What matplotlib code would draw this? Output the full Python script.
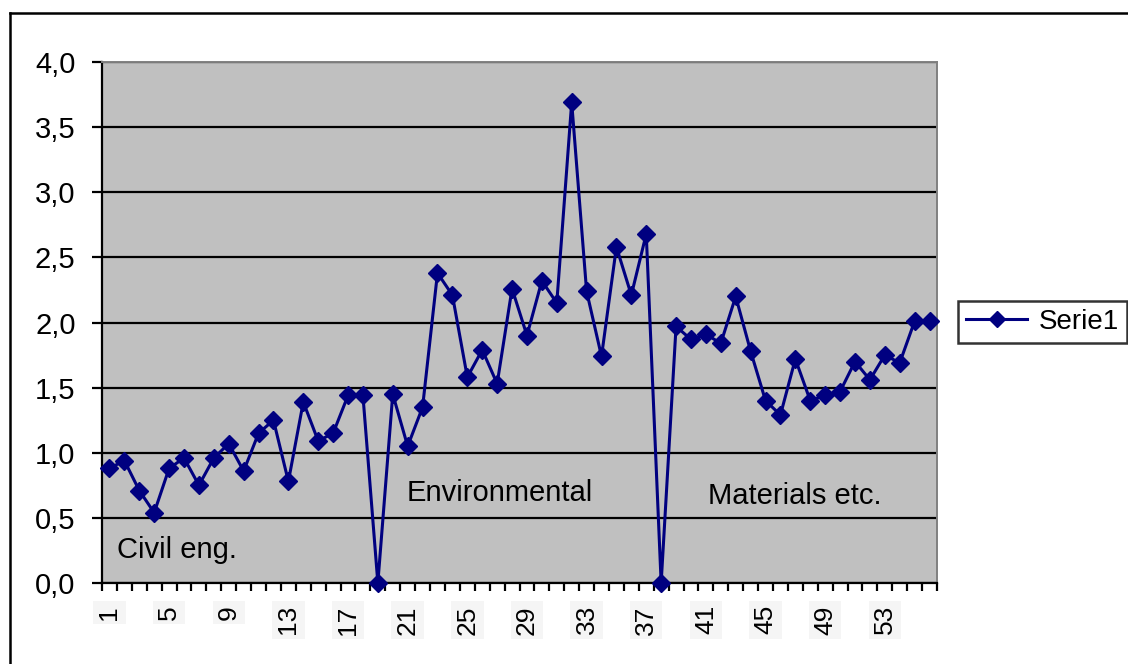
import matplotlib
matplotlib.use("Agg")
import matplotlib.pyplot as plt
from matplotlib.lines import Line2D
from matplotlib.ticker import FixedLocator, FuncFormatter

plt.rcParams['font.family'] = ['Liberation Sans', 'DejaVu Sans']

categories = list(range(1, 57))
serie1 = [0.88, 0.94, 0.71, 0.54, 0.88, 0.96, 0.75, 0.96, 1.07, 0.86,
          1.15, 1.25, 0.78, 1.39, 1.09, 1.15, 1.44, 1.44, 0.0, 1.45,
          1.05, 1.35, 2.38, 2.21, 1.58, 1.79, 1.53, 2.26, 1.90, 2.32,
          2.15, 3.69, 2.24, 1.74, 2.58, 2.21, 2.68, 0.0, 1.97, 1.87,
          1.91, 1.84, 2.20, 1.78, 1.40, 1.29, 1.72, 1.40, 1.44, 1.47,
          1.70, 1.56, 1.75, 1.69, 2.01, 2.01]
tick_labels = [str(c) for c in categories[::4]]
yticks = [0.0, 0.5, 1.0, 1.5, 2.0, 2.5, 3.0, 3.5, 4.0]
groups = ["Civil eng.", "Environmental", "Materials etc."]
group_pos = [(1.5, 0.25), (20.95, 0.69), (41.15, 0.67)]

W, H = 1128, 664
fig = plt.figure(figsize=(W / 100, H / 100), dpi=100)
fig.patch.set_facecolor('white')

# outer chart border (extends beyond right/bottom edges)
fig.add_artist(Line2D([10 / W, 10 / W], [1 - 13 / H, -0.1], transform=fig.transFigure,
                      color='black', lw=1.8))
fig.add_artist(Line2D([10 / W, 1.1], [1 - 13 / H, 1 - 13 / H], transform=fig.transFigure,
                      color='black', lw=1.8))

left, right, top, bottom = 102, 937, 62, 583
ax = fig.add_axes([left / W, 1 - bottom / H, (right - left) / W, (bottom - top) / H])
ax.set_facecolor('#c0c0c0')

ax.set_xlim(0.5, len(categories) + 0.5)
ax.set_ylim(0, 4.0)

ax.set_yticks(yticks)
ax.yaxis.set_major_formatter(FuncFormatter(lambda v, p: f"{v:.1f}".replace('.', ',')))
ax.grid(axis='y', color='black', lw=1.6)
ax.set_axisbelow(True)

for s in ['top', 'right']:
    ax.spines[s].set_color('#808080')
    ax.spines[s].set_linewidth(1.4)
for s in ['left', 'bottom']:
    ax.spines[s].set_color('black')
    ax.spines[s].set_linewidth(1.6)

ax.plot(categories, serie1, color='#000080', lw=2.2, marker='D', ms=9.5,
        markerfacecolor='#000080', markeredgecolor='#000080', label='Serie1',
        clip_on=False, zorder=5)

ax.tick_params(axis='y', length=7, width=1.6, pad=12, labelsize=21, direction='out')

ax.xaxis.set_major_locator(FixedLocator(categories[::4]))
ax.set_xticklabels(tick_labels, rotation=90, fontsize=19)
ax.xaxis.set_minor_locator(FixedLocator([c + 0.5 for c in [0] + categories]))
ax.tick_params(axis='x', which='major', length=0, pad=16)
ax.tick_params(axis='x', which='minor', length=6, width=1.6, direction='out')
for lbl in ax.get_xticklabels():
    lbl.set_va('top')
    lbl.set_bbox(dict(facecolor='#f5f5f5', edgecolor='none', pad=3))

for txt, (x, y) in zip(groups, group_pos):
    ax.text(x, y, txt, fontsize=21, ha='left', va='center', color='black', zorder=6)

leg = fig.legend(loc='center left', bbox_to_anchor=(958 / W, 1 - 322 / H),
                 fontsize=20, frameon=True, fancybox=False, edgecolor='black',
                 handlelength=2.2, borderpad=0.3, handletextpad=0.4,
                 borderaxespad=0, markerscale=0.9)
leg.get_frame().set_linewidth(1.8)

fig.savefig('out.png', dpi=100, facecolor='white')
